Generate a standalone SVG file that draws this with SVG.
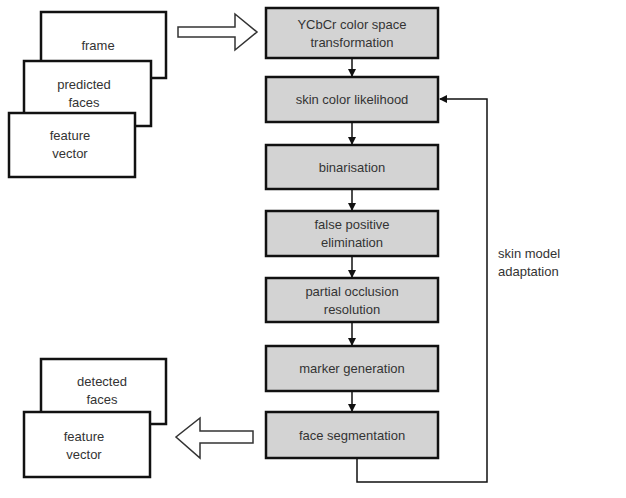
<svg xmlns="http://www.w3.org/2000/svg" width="626" height="498" viewBox="0 0 626 498">
<style>
.w{fill:#fff;stroke:#111;stroke-width:2.5}
.g{fill:#d3d3d3;stroke:#111;stroke-width:2.5}
.h{fill:#fff;stroke:#333;stroke-width:1.5}
text{font-family:"Liberation Sans",Arial,sans-serif;font-size:13px;fill:#333;text-anchor:middle}
.c{stroke:#111;stroke-width:1.5;fill:none}
</style>
<defs><marker id="a" markerWidth="8" markerHeight="8" refX="7" refY="4" orient="auto" markerUnits="userSpaceOnUse"><path d="M0,0L8,4L0,8z" fill="#111"/></marker></defs>
<rect width="626" height="498" fill="#fff"/>
<g id="in-frame"><rect class="w" x="41" y="12" width="125" height="66"/><text x="98" y="50">frame</text></g>
<g id="in-pred"><rect class="w" x="24" y="61" width="127" height="65"/><text x="84" y="89">predicted</text><text x="84" y="107">faces</text></g>
<g id="in-feat"><rect class="w" x="9" y="113" width="126" height="64"/><text x="70" y="140">feature</text><text x="70" y="158">vector</text></g>
<g id="out-det"><rect class="w" x="41" y="359" width="125" height="65"/><text x="102" y="386">detected</text><text x="102" y="404">faces</text></g>
<g id="out-feat"><rect class="w" x="24" y="412" width="126" height="65"/><text x="84" y="441">feature</text><text x="84" y="459">vector</text></g>
<g id="arrow-in"><path class="h" d="M178,27H235V14L257,32L235,50V37H178Z"/></g>
<g id="arrow-out"><path class="h" d="M253,431H200V418L176,437L200,458V443H253Z"/></g>
<g id="s1"><rect class="g" x="266" y="8" width="172" height="50"/><text x="352" y="29">YCbCr color space</text><text x="352" y="47">transformation</text></g>
<g id="s2"><rect class="g" x="266" y="77" width="172" height="45"/><text x="352" y="104">skin color likelihood</text></g>
<g id="s3"><rect class="g" x="266" y="145" width="172" height="44"/><text x="352" y="172">binarisation</text></g>
<g id="s4"><rect class="g" x="266" y="211" width="172" height="45"/><text x="352" y="229">false positive</text><text x="352" y="247">elimination</text></g>
<g id="s5"><rect class="g" x="266" y="278" width="172" height="44"/><text x="352" y="296">partial occlusion</text><text x="352" y="314">resolution</text></g>
<g id="s6"><rect class="g" x="266" y="346" width="172" height="45"/><text x="352" y="373">marker generation</text></g>
<g id="s7"><rect class="g" x="266" y="412" width="172" height="46"/><text x="352" y="440">face segmentation</text></g>
<g id="connectors">
<line class="c" x1="352" y1="58" x2="352" y2="76" marker-end="url(#a)"/>
<line class="c" x1="352" y1="122" x2="352" y2="144" marker-end="url(#a)"/>
<line class="c" x1="352" y1="189" x2="352" y2="210" marker-end="url(#a)"/>
<line class="c" x1="352" y1="256" x2="352" y2="277" marker-end="url(#a)"/>
<line class="c" x1="352" y1="322" x2="352" y2="345" marker-end="url(#a)"/>
<line class="c" x1="352" y1="391" x2="352" y2="411" marker-end="url(#a)"/>
<polyline class="c" points="357,459 357,482 487,482 487,99 440,99" marker-end="url(#a)"/>
</g>
<text x="498" y="258" style="text-anchor:start">skin model</text>
<text x="498" y="276" style="text-anchor:start">adaptation</text>
</svg>
